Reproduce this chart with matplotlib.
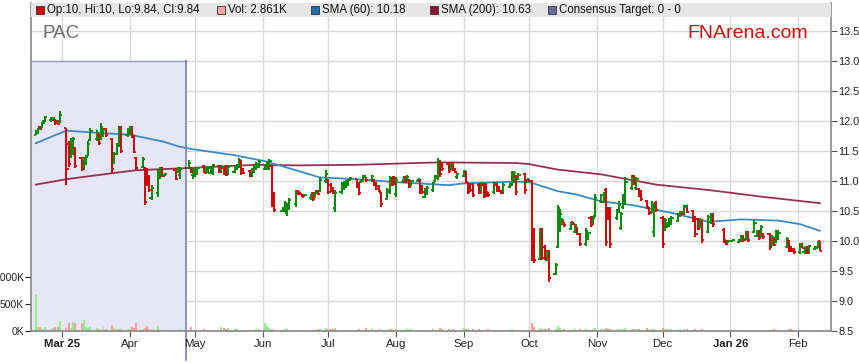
import matplotlib
matplotlib.use("Agg")
import matplotlib.pyplot as plt
import matplotlib.dates as mdates
import matplotlib.transforms as mtrans
from matplotlib.patches import Rectangle
import pandas as pd
import numpy as np

plt.rcParams['font.family'] = ['Liberation Sans', 'DejaVu Sans']

# ---------------- data ----------------
holidays = ['2025-04-18', '2025-04-21', '2025-04-25', '2025-06-09',
            '2025-12-25', '2025-12-26', '2026-01-01', '2026-01-26']

opens = [
    # Feb
    11.77, 11.80, 11.90, 11.90, 12.00, 12.01, 12.02, 12.02, 12.00, 11.97,
    # Mar
    11.88, 11.62, 11.40, 11.50, 11.55, 11.38, 11.20, 11.30, 11.42, 11.68, 11.70,
    11.78, 11.70, 11.76, 11.86, 11.70, 11.30, 11.45, 11.60, 11.88, 11.76,
    # Apr
    11.80, 11.88, 11.76, 11.38, 11.24, 11.22, 11.15, 11.05, 10.72, 10.80,
    11.08, 11.22, 11.10, 11.18, 11.15, 11.10, 11.22, 11.22, 11.10,
    # May
    11.09, 11.12, 11.25, 11.14, 11.15, 11.14, 11.13, 11.25, 11.15, 11.22, 11.24,
    11.12, 11.15, 11.20, 11.24, 11.33, 11.20, 11.17, 11.08, 11.15, 11.20, 11.23,
    # Jun
    11.20, 11.22, 11.24, 11.25, 10.78, 10.50, 10.52, 10.47, 10.56, 10.62,
    10.84, 10.81, 10.78, 10.74, 10.72, 10.80, 10.72, 10.84, 10.84, 11.00,
    # Jul
    11.02, 10.94, 10.88, 10.55, 10.82, 10.88, 10.90, 10.93, 11.01, 11.03, 10.97, 10.98,
    11.01, 11.06, 11.01, 11.02, 10.97, 10.92, 10.80, 10.70, 10.82, 11.05, 11.06,
    # Aug
    10.78, 10.98, 11.06, 11.00, 11.02, 10.93, 11.00, 11.02, 10.91, 10.73, 10.80,
    10.85, 11.00, 11.05, 11.33, 11.30, 11.29, 11.20, 11.30, 11.20, 11.06,
    # Sep
    11.08, 11.15, 10.97, 10.94, 10.95, 10.93, 10.82, 10.94, 10.93, 10.81, 10.81,
    10.94, 10.89, 10.84, 10.81, 10.90, 10.93, 10.99, 11.08, 11.04, 11.11, 10.98,
    # Oct
    11.03, 11.00, 10.18, 9.70, 10.18, 9.90, 9.68, 9.83, 9.45, 9.90, 10.20, 10.29,
    10.31, 10.20, 10.31, 10.15, 10.23, 10.11, 9.95, 10.05, 10.38, 10.29, 10.42,
    # Nov
    10.66, 10.65, 10.85, 10.55, 10.52, 10.38, 10.48, 10.22, 10.56, 10.65,
    10.88, 11.08, 10.88, 10.86, 10.83, 10.66, 10.55, 10.48, 10.15, 10.64,
    # Dec
    10.38, 10.18, 10.23, 10.26, 10.29, 10.33, 10.42, 10.49, 10.45, 10.58, 10.50,
    10.39, 10.36, 10.23, 10.34, 10.15, 10.31, 10.44, 10.19, 10.01, 9.97,
    # Jan
    10.00, 9.98, 10.00, 10.08, 10.04, 10.14, 10.15, 10.09, 10.16, 10.09,
    10.12, 10.11, 9.93, 10.05, 9.98, 10.04, 9.90, 10.00, 9.89, 9.87,
    # Feb
    9.81, 9.94, 9.81, 9.89, 9.81, 9.86, 9.89, 10.00,
]

highs = [
    # Feb
    11.85, 11.88, 11.91, 11.99, 12.09, 12.06, 12.06, 12.03, 12.02, 12.16,
    # Mar
    11.89, 11.66, 11.71, 11.74, 11.57, 11.40, 11.40, 11.43, 11.66, 11.88, 11.85,
    11.79, 11.96, 11.88, 11.88, 11.71, 11.49, 11.63, 11.91, 11.91, 11.88,
    # Apr
    11.91, 11.91, 11.77, 11.40, 11.40, 11.24, 11.21, 11.10, 10.93, 11.18,
    11.24, 11.24, 11.13, 11.21, 11.24, 11.24, 11.35, 11.24, 11.21,
    # May
    11.22, 11.24, 11.27, 11.25, 11.25, 11.25, 11.29, 11.27, 11.26, 11.24, 11.27,
    11.26, 11.27, 11.29, 11.38, 11.35, 11.21, 11.18, 11.21, 11.27, 11.32, 11.35,
    # Jun
    11.29, 11.34, 11.36, 11.27, 10.82, 10.57, 10.66, 10.63, 10.71, 10.85,
    10.85, 10.82, 10.79, 10.79, 10.79, 10.82, 10.82, 10.85, 11.07, 11.19,
    # Jul
    11.04, 10.96, 10.90, 10.85, 10.99, 11.00, 11.02, 11.04, 11.06, 11.04, 10.99, 11.04,
    11.10, 11.07, 11.10, 11.03, 10.99, 10.93, 10.82, 10.88, 11.08, 11.07, 11.08,
    # Aug
    11.07, 11.04, 11.08, 11.10, 11.04, 11.02, 11.04, 11.03, 10.93, 10.88, 10.91,
    10.99, 11.10, 11.38, 11.35, 11.32, 11.31, 11.32, 11.32, 11.21, 11.13,
    # Sep
    11.18, 11.16, 10.99, 10.96, 10.97, 10.96, 10.99, 10.96, 10.96, 10.82, 10.99,
    10.96, 10.91, 10.85, 10.96, 10.96, 11.16, 11.16, 11.10, 11.13, 11.13, 11.04,
    # Oct
    11.04, 11.02, 10.21, 10.21, 10.21, 9.93, 9.85, 9.85, 9.63, 10.60, 10.54, 10.38,
    10.32, 10.32, 10.32, 10.29, 10.24, 10.13, 10.21, 10.15, 10.41, 10.41, 10.79,
    # Nov
    10.79, 10.81, 10.88, 10.57, 10.57, 10.54, 10.66, 10.49, 10.79, 11.07,
    11.10, 11.10, 11.07, 10.88, 10.85, 10.68, 10.57, 10.66, 10.63, 10.66,
    # Dec
    10.41, 10.38, 10.32, 10.38, 10.41, 10.47, 10.50, 10.50, 10.60, 10.60, 10.52,
    10.41, 10.38, 10.38, 10.36, 10.43, 10.46, 10.46, 10.21, 10.02, 10.02,
    # Jan
    10.02, 10.04, 10.10, 10.10, 10.16, 10.16, 10.35, 10.18, 10.18, 10.27,
    10.13, 10.13, 10.10, 10.07, 10.18, 10.18, 10.07, 10.02, 9.91, 9.88,
    # Feb
    9.96, 9.96, 9.91, 9.91, 9.93, 9.91, 10.00, 10.00,
]

lows = [
    # Feb
    11.76, 11.79, 11.85, 11.88, 11.99, 11.99, 12.00, 11.93, 11.93, 11.96,
    # Mar
    10.93, 11.24, 11.38, 11.43, 11.21, 11.16, 11.18, 11.27, 11.41, 11.66, 11.67,
    11.60, 11.68, 11.74, 11.74, 11.13, 11.29, 11.43, 11.57, 11.46, 11.74,
    # Apr
    11.77, 11.71, 11.46, 11.18, 11.21, 10.60, 10.91, 10.82, 10.68, 10.74,
    11.04, 11.07, 11.09, 11.02, 11.13, 11.04, 11.21, 11.13, 11.04,
    # May
    11.07, 11.10, 11.13, 11.11, 11.13, 11.12, 11.10, 11.13, 11.13, 11.10, 11.08,
    11.10, 11.13, 11.18, 11.21, 11.10, 11.12, 11.07, 11.06, 11.13, 11.18, 11.21,
    # Jun
    11.18, 11.19, 11.18, 10.57, 10.49, 10.49, 10.49, 10.42, 10.52, 10.57,
    10.77, 10.77, 10.74, 10.73, 10.69, 10.66, 10.71, 10.76, 10.82, 10.96,
    # Jul
    10.79, 10.81, 10.79, 10.49, 10.79, 10.85, 10.88, 10.91, 11.00, 10.88, 10.77, 10.96,
    10.99, 10.99, 10.99, 10.91, 10.85, 10.82, 10.57, 10.68, 10.79, 10.91, 10.93,
    # Aug
    10.74, 10.96, 10.96, 10.99, 10.88, 10.91, 10.99, 10.79, 10.79, 10.71, 10.77,
    10.82, 10.99, 11.02, 11.07, 11.16, 11.13, 11.18, 11.16, 11.13, 11.04,
    # Sep
    11.07, 10.96, 10.79, 10.82, 10.74, 10.79, 10.79, 10.71, 10.74, 10.74, 10.79,
    10.82, 10.81, 10.79, 10.79, 10.88, 10.91, 10.96, 10.77, 11.02, 10.79, 10.96,
    # Oct
    10.99, 9.66, 9.63, 9.68, 9.68, 9.68, 9.66, 9.32, 9.43, 9.88, 10.15, 10.27,
    10.24, 10.18, 10.27, 10.13, 10.10, 9.91, 9.91, 10.02, 10.24, 10.27, 10.40,
    # Nov
    10.63, 10.63, 9.91, 10.35, 9.88, 10.35, 10.46, 10.18, 10.54, 10.60,
    10.85, 10.93, 10.85, 10.74, 10.66, 10.54, 10.43, 10.46, 10.07, 10.49,
    # Dec
    9.88, 10.16, 10.21, 10.24, 10.27, 10.32, 10.40, 10.43, 10.43, 10.46, 10.32,
    10.07, 10.18, 10.21, 9.96, 10.13, 10.29, 10.24, 9.96, 9.93, 9.96,
    # Jan
    9.99, 9.96, 9.99, 9.99, 10.02, 9.99, 10.13, 10.07, 10.02, 10.07,
    10.04, 9.85, 9.91, 9.91, 9.96, 10.02, 9.88, 9.82, 9.82, 9.79,
    # Feb
    9.79, 9.88, 9.79, 9.79, 9.79, 9.85, 9.88, 9.84,
]

closes = [
    # Feb
    11.82, 11.86, 11.86, 11.97, 12.06, 12.05, 12.05, 11.96, 11.95, 12.10,
    # Mar
    11.20, 11.28, 11.65, 11.70, 11.25, 11.20, 11.35, 11.40, 11.62, 11.84, 11.80,
    11.63, 11.90, 11.85, 11.76, 11.20, 11.45, 11.58, 11.85, 11.50, 11.85,
    # Apr
    11.88, 11.74, 11.48, 11.22, 11.36, 10.65, 10.95, 10.85, 10.88, 11.12,
    11.20, 11.08, 11.12, 11.04, 11.22, 11.20, 11.30, 11.15, 11.18,
    # May
    11.19, 11.21, 11.15, 11.22, 11.22, 11.23, 11.26, 11.15, 11.24, 11.12, 11.10,
    11.24, 11.25, 11.27, 11.35, 11.14, 11.14, 11.09, 11.18, 11.25, 11.29, 11.31,
    # Jun
    11.27, 11.31, 11.33, 10.62, 10.52, 10.55, 10.63, 10.60, 10.68, 10.82,
    10.79, 10.78, 10.75, 10.77, 10.77, 10.70, 10.80, 10.79, 11.02, 11.12,
    # Jul
    10.82, 10.84, 10.81, 10.80, 10.96, 10.97, 10.99, 11.02, 11.05, 10.90, 10.80, 11.02,
    11.08, 11.01, 11.08, 10.93, 10.87, 10.84, 10.62, 10.85, 11.04, 10.93, 10.95,
    # Aug
    11.02, 11.03, 10.98, 11.07, 10.90, 11.00, 11.03, 10.82, 10.81, 10.85, 10.88,
    10.96, 11.08, 11.33, 11.12, 11.20, 11.16, 11.29, 11.18, 11.15, 11.11,
    # Sep
    11.16, 10.98, 10.82, 10.85, 10.77, 10.81, 10.96, 10.74, 10.77, 10.76, 10.96,
    10.84, 10.83, 10.80, 10.93, 10.95, 11.10, 11.13, 10.82, 11.10, 10.85, 11.03,
    # Oct
    11.00, 9.72, 9.68, 10.15, 9.72, 9.70, 9.82, 9.38, 9.60, 10.55, 10.45, 10.35,
    10.26, 10.30, 10.28, 10.27, 10.12, 9.95, 10.16, 10.13, 10.27, 10.38, 10.72,
    # Nov
    10.76, 10.78, 9.98, 10.38, 9.95, 10.50, 10.60, 10.45, 10.75, 10.98,
    11.05, 10.96, 11.03, 10.76, 10.70, 10.56, 10.46, 10.62, 10.58, 10.52,
    # Dec
    9.95, 10.35, 10.30, 10.36, 10.39, 10.45, 10.48, 10.45, 10.57, 10.48, 10.35,
    10.12, 10.20, 10.35, 10.02, 10.40, 10.44, 10.28, 10.00, 9.95, 10.00,
    # Jan
    10.01, 10.02, 10.08, 10.01, 10.13, 10.02, 10.30, 10.16, 10.05, 10.24,
    10.06, 9.90, 10.07, 9.94, 10.15, 10.14, 10.04, 9.85, 9.84, 9.81,
    # Feb
    9.93, 9.89, 9.89, 9.81, 9.91, 9.90, 9.99, 9.84,
]

volumes_k = [
    # Feb
    690, 70, 75, 45, 70, 40, 50, 80, 80, 180,
    # Mar
    60, 150, 60, 165, 150, 150, 195, 70, 50, 75, 60, 30, 25, 70, 45, 120, 50, 30, 40, 45, 30,
    # Apr
    35, 70, 60, 150, 30, 60, 90, 30, 35, 90, 25, 15, 15, 20, 25, 30, 20, 75, 20,
    # May
    15, 20, 35, 20, 15, 20, 25, 20, 70, 50, 30, 55, 45, 40, 20, 15, 20, 20, 15, 25, 40, 45,
    # Jun
    150, 90, 60, 30, 25, 20, 35, 30, 20, 15, 25, 20, 20, 15, 25, 20, 20, 30, 35, 60,
    # Jul
    40, 30, 45, 60, 25, 20, 25, 20, 15, 20, 35, 25, 20, 60, 30, 20, 25, 35, 25, 20, 30, 40, 25,
    # Aug
    30, 25, 20, 35, 25, 30, 20, 25, 20, 15, 20, 30, 25, 20, 55, 45, 30, 25, 30, 25, 20,
    # Sep
    60, 45, 30, 25, 30, 35, 25, 20, 25, 40, 20, 25, 20, 15, 20, 25, 30, 20, 25, 20, 15, 20,
    # Oct
    20, 140, 80, 60, 45, 35, 30, 55, 40, 100, 50, 25, 30, 20, 25, 30, 25, 40, 30, 20, 25, 30, 50,
    # Nov
    40, 30, 60, 35, 40, 30, 35, 25, 45, 50, 40, 30, 35, 30, 25, 60, 35, 30, 40, 25,
    # Dec
    50, 35, 30, 25, 30, 25, 30, 20, 35, 30, 25, 30, 20, 25, 30, 20, 15, 10, 15, 20, 15,
    # Jan
    10, 15, 20, 15, 20, 15, 25, 20, 15, 20, 15, 25, 20, 30, 25, 20, 25, 35, 30, 20,
    # Feb
    20, 25, 15, 20, 25, 20, 25, 2.861,
]

sma60_dates = ['2025-02-17', '2025-03-03', '2025-03-18', '2025-04-02', '2025-04-04',
               '2025-04-16', '2025-04-24', '2025-04-30', '2025-05-19', '2025-06-02',
               '2025-06-17', '2025-06-27', '2025-07-14', '2025-08-01', '2025-08-11',
               '2025-08-25', '2025-09-01', '2025-09-25', '2025-10-01', '2025-10-14',
               '2025-10-22', '2025-11-03', '2025-11-17', '2025-11-28', '2025-12-05',
               '2025-12-22', '2026-01-06', '2026-01-23', '2026-02-02', '2026-02-11']
sma60_vals = [11.63, 11.84, 11.80, 11.77, 11.75, 11.66, 11.57, 11.53, 11.43, 11.33,
              11.17, 11.06, 11.03, 10.98, 10.96, 10.93, 10.96, 10.99, 10.98, 10.83,
              10.78, 10.66, 10.60, 10.52, 10.47, 10.32, 10.36, 10.34, 10.28, 10.17]

sma200_dates = ['2025-02-17', '2025-03-03', '2025-03-24', '2025-04-04', '2025-04-24',
                '2025-05-29', '2025-06-17', '2025-07-14', '2025-08-20', '2025-09-25',
                '2025-10-01', '2025-10-14', '2025-11-03', '2025-11-28', '2025-12-22',
                '2026-01-02', '2026-01-15', '2026-02-11']
sma200_vals = [10.94, 11.03, 11.13, 11.18, 11.21, 11.27, 11.26, 11.27, 11.31, 11.30,
               11.28, 11.19, 11.11, 10.94, 10.85, 10.80, 10.74, 10.63]

consensus_end = '2025-04-27'
consensus_top = 13.0

month_ticks = ['2025-03-01', '2025-04-01', '2025-05-01', '2025-06-01', '2025-07-01',
               '2025-08-01', '2025-09-01', '2025-10-01', '2025-11-01', '2025-12-01',
               '2026-01-01', '2026-02-01']
month_labels = ['Mar 25', 'Apr', 'May', 'Jun', 'Jul', 'Aug', 'Sep', 'Oct', 'Nov',
                'Dec', 'Jan 26', 'Feb']
bold_labels = {'Mar 25', 'Jan 26'}

price_ticks = [8.5, 9.0, 9.5, 10.0, 10.5, 11.0, 11.5, 12.0, 12.5, 13.0, 13.5]
vol_ticks = [0, 500, 1000]
vol_labels = ['0K', '500K', '1000K']

legend_items = [
    ('Op:10, Hi:10, Lo:9.84, Cl:9.84', '#cc0000'),
    ('Vol: 2.861K', '#f7a1a1'),
    ('SMA (60): 10.18', '#1f6eb0'),
    ('SMA (200): 10.63', '#8a1538'),
    ('Consensus Target: 0 - 0', '#6b6b9c'),
]

# ---------------- build ----------------
dates = pd.bdate_range('2025-02-17', '2026-02-11')
dates = dates[~dates.isin(pd.to_datetime(holidays))]
n = min(len(dates), len(opens), len(highs), len(lows), len(closes), len(volumes_k))
x = mdates.date2num(dates[:n].to_pydatetime())
o = np.array(opens[:n]); h = np.array(highs[:n]); l = np.array(lows[:n]); c = np.array(closes[:n])
v = np.array(volumes_k[:n])
up = c >= o

W, H = 859, 363
fig = plt.figure(figsize=(W / 100, H / 100), dpi=100)
fig.patch.set_facecolor('white')

left, right, bottom, top = 31, 831, 331, 3
rect = [left / W, (H - bottom) / H, (right - left) / W, (bottom - top) / H]
ax = fig.add_axes(rect)
axv = fig.add_axes(rect, sharex=ax)
axv.set_zorder(ax.get_zorder() - 1)
ax.patch.set_visible(False)
axv.set_facecolor('white')

x_left = mdates.date2num(pd.Timestamp('2025-03-01')) - (62 - left) / 2.184
x_right = mdates.date2num(pd.Timestamp('2026-02-01')) + (right - 798) / 2.184
ax.set_xlim(x_left, x_right)
ymax = 13.5 + (31 - top) / 60.0
ax.set_ylim(8.5, ymax)
axv.set_ylim(0, (bottom - top) / 54.0 * 1000)

tick_x = mdates.date2num(pd.to_datetime(month_ticks).to_pydatetime())

# grid (on volume axes which is at the back)
for t in price_ticks:
    axv.axhline((t - 8.5) / (ymax - 8.5) * axv.get_ylim()[1], color='#d9d9d9', lw=1.0, zorder=0)
for tx in tick_x:
    axv.axvline(tx, color='#d9d9d9', lw=1.0, zorder=0)

# consensus shaded area
ce = mdates.date2num(pd.Timestamp(consensus_end))
ctop = (consensus_top - 8.5) / (ymax - 8.5) * axv.get_ylim()[1]
axv.add_patch(Rectangle((x_left, 0), ce - x_left, ctop, facecolor='#e6e6f6',
                        edgecolor='none', zorder=0.5))
axv.plot([x_left, ce], [ctop, ctop], color='#9a9ac8', lw=1.0, zorder=0.6)
trans = mtrans.blended_transform_factory(ax.transData, ax.transAxes)
ybot = -(H - bottom - 3) / (bottom - top)
ytop_c = (consensus_top - 8.5) / (ymax - 8.5)
ax.plot([ce, ce], [ybot, ytop_c], color='#7f7fb5', lw=1.2, transform=trans,
        clip_on=False, zorder=1)

# volume bars
vcol = np.where(up, '#90ee90', '#ff9c9c')
axv.bar(x, v, width=0.9, color=vcol, zorder=2)

# SMA lines
ax.plot(mdates.date2num(pd.to_datetime(sma200_dates).to_pydatetime()), sma200_vals,
        color='#8a1c40', lw=1.3, alpha=0.9, zorder=3)
ax.plot(mdates.date2num(pd.to_datetime(sma60_dates).to_pydatetime()), sma60_vals,
        color='#3a8ac6', lw=1.3, zorder=3)

# OHLC bars
colors = np.where(up, '#008800', '#d00000')
ax.vlines(x, l, h, colors=colors, lw=1.4, zorder=4)
ax.hlines(o, x - 1.0, x, colors=colors, lw=1.3, zorder=4)
ax.hlines(c, x, x + 1.0, colors=colors, lw=1.3, zorder=4)

# legend band
ax.add_patch(Rectangle((0, (bottom - 17) / (bottom - top)), 1, 1 - (bottom - 17) / (bottom - top),
                       transform=ax.transAxes, facecolor='#e6e6e6', edgecolor='none',
                       zorder=5, clip_on=False))
leg_x = [36, 217, 311, 430, 548]
ly = 1 - (10 - top) / (bottom - top)
for (txt, col), px in zip(legend_items, leg_x):
    ax.add_patch(Rectangle(((px - left) / (right - left), ly - 4 / (bottom - top)),
                           8 / (right - left), 8 / (bottom - top), transform=ax.transAxes,
                           facecolor=col, edgecolor='#333333', lw=0.6, zorder=6, clip_on=False))
    ax.text((px + 11 - left) / (right - left), ly, txt, transform=ax.transAxes,
            fontsize=8.3, color='#111111', va='center', ha='left', zorder=7)

# titles
ax.text((42 - left) / (right - left), 1 - (33 - top) / (bottom - top), 'PAC',
        transform=ax.transAxes, fontsize=13.5, color='#6e6e6e', va='center', ha='left', zorder=7)
ax.text((808 - left) / (right - left), 1 - (33 - top) / (bottom - top), 'FNArena.com',
        transform=ax.transAxes, fontsize=14, color='#cc1111', va='center', ha='right', zorder=7)

# axes styling
ax.yaxis.tick_right()
ax.set_yticks(price_ticks)
ax.set_yticklabels([f'{t:.1f}' for t in price_ticks])
ax.tick_params(axis='y', direction='out', length=4, width=0.8, color='#555555',
               labelsize=7.8, labelcolor='#222222', pad=1.5)
axv.yaxis.tick_left()
axv.set_yticks(vol_ticks)
axv.set_yticklabels(vol_labels)
axv.tick_params(axis='y', direction='out', length=4, width=0.8, color='#222222',
                labelsize=7.5, labelcolor='#222222', pad=1)

ax.set_xticks(tick_x)
ax.set_xticklabels(month_labels)
for lab in ax.get_xticklabels():
    if lab.get_text() in bold_labels:
        lab.set_fontweight('bold')
ax.tick_params(axis='x', direction='out', length=4, width=0.8, color='#555555',
               labelsize=8.2, labelcolor='#222222', pad=2)
axv.tick_params(axis='x', bottom=False, labelbottom=False)

for a in (ax, axv):
    a.spines['top'].set_visible(False)
for s in ('left', 'right', 'bottom'):
    axv.spines[s].set_visible(False)
ax.spines['left'].set_color('#888888')
ax.spines['right'].set_color('#888888')
ax.spines['bottom'].set_color('#888888')
for s in ('left', 'right', 'bottom'):
    ax.spines[s].set_linewidth(1.2)

fig.savefig('out.png', dpi=100)
